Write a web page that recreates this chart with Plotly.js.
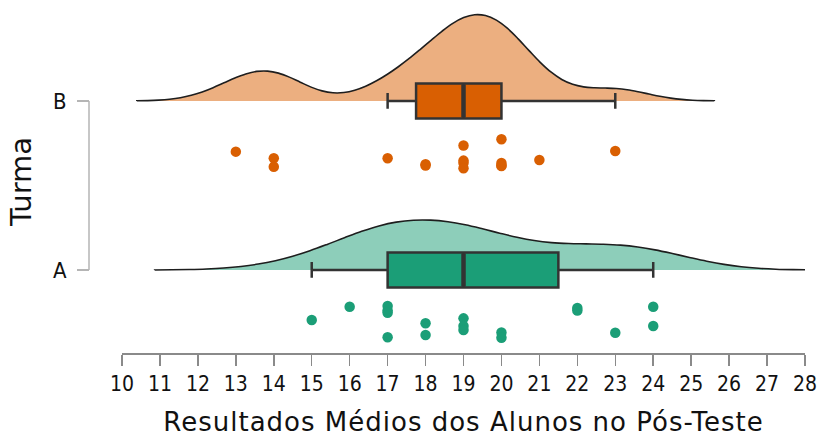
<!DOCTYPE html>
<html>
<head>
<meta charset="utf-8">
<script src="https://cdn.plot.ly/plotly-3.0.1.min.js"></script>
<style>
html, body { margin: 0; padding: 0; background: #fff; }
#chart { width: 820px; height: 437px; }
.xtitle { letter-spacing: 1px; }
</style>
</head>
<body>
<div id="chart"></div>
<script>
// ---- data ----
var groups = ['A', 'B'];
var groupPos = [0, 1];

var scoresA = [15, 16, 17, 17, 17, 17, 18, 18, 19, 19, 19, 20, 20, 22, 22, 23, 24, 24];
var jitterA = [-0.296, -0.217, -0.213, -0.240, -0.253, -0.398, -0.315, -0.385, -0.286, -0.331, -0.355, -0.369, -0.401, -0.225, -0.240, -0.371, -0.217, -0.331];

var scoresB = [13, 14, 14, 17, 18, 18, 19, 19, 19, 19, 20, 20, 20, 20, 21, 23];
var jitterB = [-0.300, -0.339, -0.389, -0.339, -0.374, -0.382, -0.264, -0.353, -0.367, -0.398, -0.227, -0.367, -0.382, -0.385, -0.349, -0.296];

// box statistics
var lowerA = 15, q1A = 17, medA = 19, q3A = 21.5, upperA = 24;
var lowerB = 17, q1B = 17.75, medB = 19, q3B = 20, upperB = 23;

// density bandwidths
var bandwidthA = 1.38, bandwidthB = 0.87;

var xTicks = [10,11,12,13,14,15,16,17,18,19,20,21,22,23,24,25,26,27,28];

// ---- styles ----
var colA = '#1B9E77', colB = '#D95F02';
var fillA = '#8DCEBA', fillB = '#ECAF80';
var boxW = 0.207;

function addJitter(pos, j) { return j.map(function (v) { return pos + v; }); }
function softSpan(vals, bw) {
  return [Math.min.apply(null, vals) - 3 * bw, Math.max.apply(null, vals) + 3 * bw];
}

var traces = [];
// densities
traces.push({
  type: 'violin', orientation: 'h', x: scoresA, y0: groupPos[0], side: 'positive',
  bandwidth: bandwidthA, spanmode: 'manual', span: softSpan(scoresA, bandwidthA), width: 0.59,
  fillcolor: fillA, opacity: 1, line: {color: '#1e1e1e', width: 1.6},
  points: false, box: {visible: false}, meanline: {visible: false}, hoverinfo: 'skip', showlegend: false
});
traces.push({
  type: 'violin', orientation: 'h', x: scoresB, y0: groupPos[1], side: 'positive',
  bandwidth: bandwidthB, spanmode: 'manual', span: softSpan(scoresB, bandwidthB), width: 1.02,
  fillcolor: fillB, opacity: 1, line: {color: '#1e1e1e', width: 1.6},
  points: false, box: {visible: false}, meanline: {visible: false}, hoverinfo: 'skip', showlegend: false
});
// boxes
traces.push({
  type: 'box', orientation: 'h', y: [groupPos[0]],
  q1: [q1A], median: [medA], q3: [q3A], lowerfence: [lowerA], upperfence: [upperA],
  width: boxW, whiskerwidth: 0.45, fillcolor: colA, line: {color: '#333333', width: 2.5},
  boxpoints: false, hoverinfo: 'skip', showlegend: false
});
traces.push({
  type: 'box', orientation: 'h', y: [groupPos[1]],
  q1: [q1B], median: [medB], q3: [q3B], lowerfence: [lowerB], upperfence: [upperB],
  width: boxW, whiskerwidth: 0.45, fillcolor: colB, line: {color: '#333333', width: 2.5},
  boxpoints: false, hoverinfo: 'skip', showlegend: false
});
// thicker medians
[[medA, groupPos[0]], [medB, groupPos[1]]].forEach(function (m) {
  traces.push({
    type: 'scatter', mode: 'lines', x: [m[0], m[0]], y: [m[1] - boxW / 2 + 0.006, m[1] + boxW / 2 - 0.006],
    line: {color: '#333333', width: 4.5}, hoverinfo: 'skip', showlegend: false
  });
});
// raw points
traces.push({
  type: 'scatter', mode: 'markers', x: scoresA, y: addJitter(groupPos[0], jitterA),
  marker: {color: colA, size: 10.5}, hoverinfo: 'skip', showlegend: false
});
traces.push({
  type: 'scatter', mode: 'markers', x: scoresB, y: addJitter(groupPos[1], jitterB),
  marker: {color: colB, size: 10.5}, hoverinfo: 'skip', showlegend: false
});

var layout = {
  width: 820, height: 437,
  margin: {l: 89, r: 15, t: 10, b: 84},
  paper_bgcolor: '#ffffff', plot_bgcolor: '#ffffff',
  boxmode: 'overlay', violinmode: 'overlay',
  showlegend: false,
  xaxis: {
    domain: [0.0461, 1], range: [10, 28], tickvals: xTicks, ticktext: xTicks.map(String),
    showgrid: false, zeroline: false, showline: true, linecolor: '#8a8a8a', linewidth: 1.5,
    ticks: 'outside', ticklen: 11, tickwidth: 1.5, tickcolor: '#8a8a8a',
    tickfont: {family: 'DejaVu Sans Condensed, DejaVu Sans', size: 21, color: '#111'},
    title: {text: 'Resultados Médios dos Alunos no Pós-Teste', standoff: 28,
      font: {family: 'DejaVu Sans', size: 26, color: '#111'}}
  },
  yaxis: {
    anchor: 'free', position: 0, range: [-0.491, 1.538],
    tickvals: groupPos, ticktext: groups,
    showgrid: false, zeroline: false, showline: false,
    ticks: 'outside', ticklen: 12, tickwidth: 1.5, tickcolor: '#b5b5b5', ticklabelstandoff: 6,
    tickfont: {family: 'DejaVu Sans Condensed, DejaVu Sans', size: 22, color: '#111'},
    title: {text: 'Turma', standoff: 11, font: {family: 'DejaVu Sans', size: 29, color: '#111'}}
  },
  shapes: [{
    type: 'line', xref: 'paper', yref: 'y', x0: 0, x1: 0, y0: groupPos[0], y1: groupPos[1],
    line: {color: '#b5b5b5', width: 1.5}, layer: 'below'
  }]
};

Plotly.newPlot('chart', traces, layout, {displayModeBar: false, staticPlot: true});
</script>
</body>
</html>
